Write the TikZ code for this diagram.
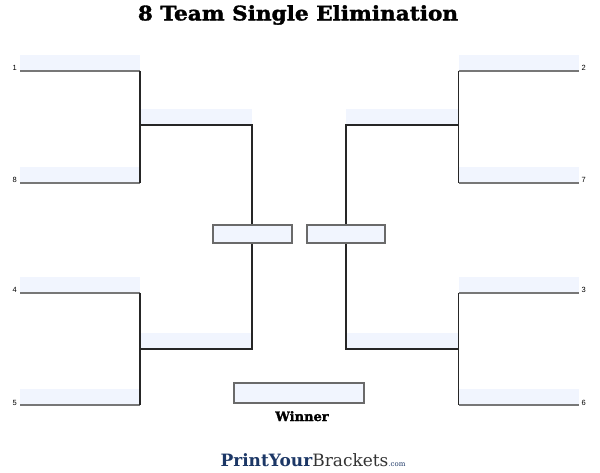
\documentclass[tikz,border=0pt]{standalone}
\usepackage{fontspec}
\usepackage{tikz}
\usetikzlibrary{positioning,calc}
\setmainfont{DejaVu Serif}
\newfontfamily\heavyfont{DejaVu Serif}[BoldFeatures={FakeBold=1.6}]
\newfontfamily\seedfont{Liberation Sans}
\definecolor{slotblue}{HTML}{F1F5FE}
\definecolor{slotline}{HTML}{777777}
\definecolor{boxline}{HTML}{6A6A6A}
\definecolor{pybnavy}{HTML}{1C3766}
\tikzset{
  slot/.style={fill=slotblue,inner sep=0pt,outer sep=0pt,minimum width=120pt,minimum height=16pt},
  slot2/.style={slot,minimum width=112pt},
  pickbox/.style={draw=boxline,line width=1.2pt,fill=slotblue,inner sep=0pt,minimum width=79pt,minimum height=18pt},
  seedline/.style={slotline,line width=1.6pt},
  bline/.style={black!85,line width=1.1pt},
  seed/.style={font=\seedfont\fontsize{7.5}{8}\selectfont,inner sep=0pt}
}
\begin{document}
\begin{tikzpicture}[x=1pt,y=-1pt]
  \useasboundingbox (0,0) rectangle (600,473);
  \node[font=\heavyfont\bfseries\fontsize{20}{22}\selectfont] (title) at (298,15) {\scalebox{1.08}[1]{8 Team Single Elimination}};
  % first round
  \foreach \nm/\cx/\cy in {a1/80/63,a8/80/175,a4/80/285,a5/80/397,b2/518.5/63,b7/518.5/175,b3/518.5/285,b6/518.5/397}{
    \node[slot] (\nm) at (\cx,\cy) {};
    \draw[seedline] (\nm.south west) -- (\nm.south east);
  }
  % second round
  \foreach \nm/\cx/\cy in {qa1/196/117,qa2/196/341,qb1/402/117,qb2/402/341}{
    \node[slot2] (\nm) at (\cx,\cy) {};
  }
  % semis and winner
  \node[pickbox] (sfa) at (252.5,234) {};
  \node[pickbox,minimum width=78pt] (sfb) at (346,234) {};
  \node[pickbox,minimum width=130pt,minimum height=20pt] (win) at (299,393) {};
  \node[font=\heavyfont\bfseries\fontsize{13}{15}\selectfont,below=4pt of win,xshift=3pt] (wintxt) {Winner};
  % seeds
  \foreach \nm/\sd in {a1/1,a8/8,a4/4,a5/5}{
    \node[seed,anchor=base east,xshift=-3pt] at (\nm.south west) {\sd};
  }
  \foreach \nm/\sd in {b2/2,b7/7,b3/3,b6/6}{
    \node[seed,anchor=base west,xshift=3pt] at (\nm.south east) {\sd};
  }
  % brackets
  \draw[bline] (a1.south east) -- (a8.south east);
  \draw[bline] (a4.south east) -- (a5.south east);
  \draw[bline] (b2.south west) -- (b7.south west);
  \draw[bline] (b3.south west) -- (b6.south west);
  \draw[bline] (qa1.south west) -- (qa1.south east) -- (sfa.north -| qa1.south east);
  \draw[bline] (qa2.south west) -- (qa2.south east) -- (sfa.south -| qa2.south east);
  \draw[bline] (qb1.south east) -- (qb1.south west) -- (sfb.north -| qb1.south west);
  \draw[bline] (qb2.south east) -- (qb2.south west) -- (sfb.south -| qb2.south west);
  % logo
  \node[anchor=base,inner sep=0pt] (logo) at (313,466)
    {\fontsize{17}{19}\selectfont\textcolor{pybnavy}{\bfseries PrintYour}\textcolor{black!80}{Brackets}\textcolor{pybnavy}{\fontsize{7}{8}\selectfont.com}};
\end{tikzpicture}
\end{document}
